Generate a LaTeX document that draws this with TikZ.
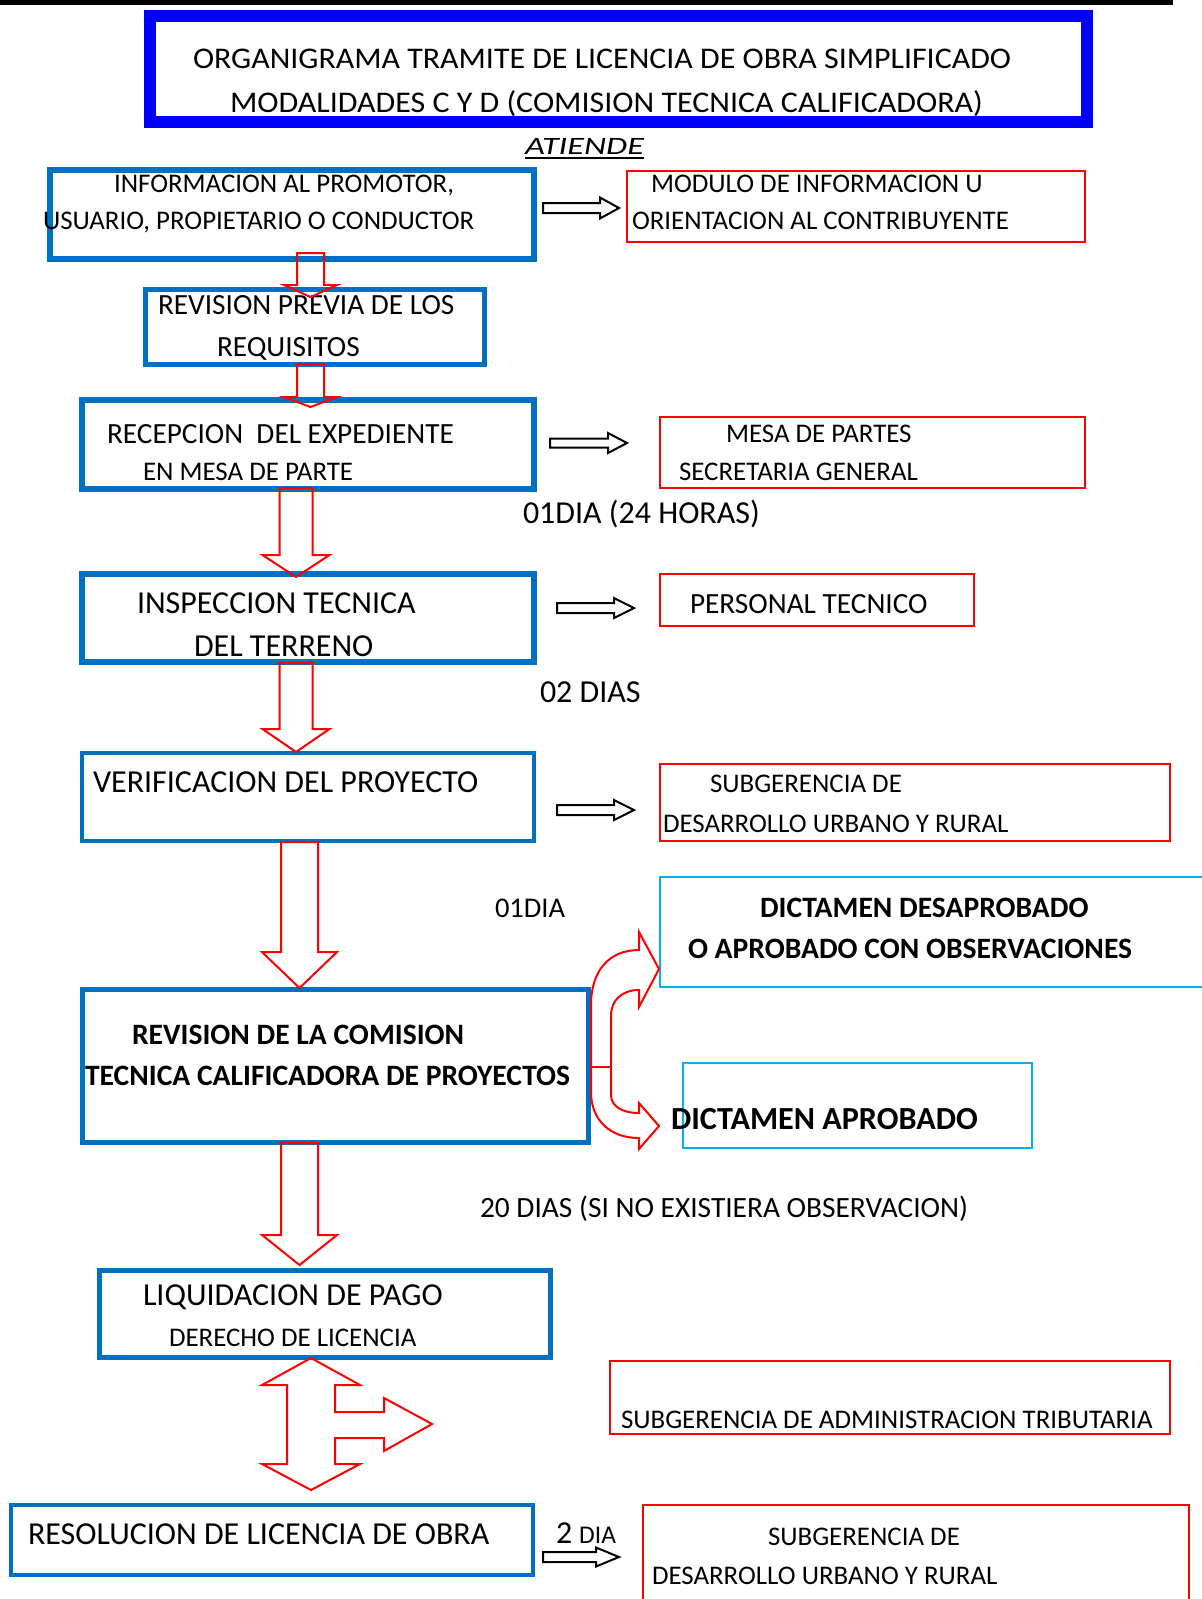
\documentclass[tikz,border=0pt]{standalone}
\usepackage{fontspec}
\setmainfont{Carlito}
\usetikzlibrary{calc}
\definecolor{boxblue}{HTML}{0070C0}
\definecolor{titleblue}{HTML}{0000FF}
\definecolor{cyanbox}{HTML}{00B0F0}
\definecolor{redline}{HTML}{FF0000}
\newcommand\fsz[1]{\fontsize{#1}{#1}\selectfont}
\tikzset{
  bluebox/.style={draw=boxblue, line width=5.5pt, inner sep=0pt, rectangle},
  redbox/.style={draw=redline, line width=2.2pt, inner sep=0pt, rectangle},
  cyanbx/.style={draw=cyanbox, line width=2pt, inner sep=0pt, rectangle},
  txt/.style={anchor=base west, inner sep=0pt, outer sep=0pt},
  redarr/.style={draw=redline, line width=2pt, line join=miter},
  blkarr/.style={draw=black, line width=2pt, line join=miter},
}
% down block arrow: cx, top, base of head, tip, half body, half head
\newcommand\downblk[6]{%
  \draw[redarr] ({#1-#5},#2) -- ({#1+#5},#2) -- ({#1+#5},#3) -- ({#1+#6},#3) -- (#1,#4) -- ({#1-#6},#3) -- ({#1-#5},#3) -- cycle;}
% right block arrow: x0, x1(tip), xhead, cy, half body, half head
\newcommand\rightblk[6]{%
  \draw[blkarr] (#1,{#4-#5}) -- (#3,{#4-#5}) -- (#3,{#4-#6}) -- (#2,#4) -- (#3,{#4+#6}) -- (#3,{#4+#5}) -- (#1,{#4+#5}) -- cycle;}
\begin{document}
\begin{tikzpicture}[x=1pt,y=-1pt]
\useasboundingbox (0,0) rectangle (1202,1599);
\fill[white] (0,0) rectangle (1202,1599);

% top rule
\draw[line width=5pt] (0,2.5) -- (1173,2.5);

% title box
\node[draw=titleblue, line width=12pt, minimum width=937pt, minimum height=106pt, inner sep=0pt] (title) at (618.5,69) {};
\node[txt] (title1) at (193,68) {\resizebox{818pt}{\height}{\fsz{30}ORGANIGRAMA TRAMITE DE LICENCIA DE OBRA SIMPLIFICADO}};
\node[txt] (title2) at (230,112) {\resizebox{753pt}{\height}{\fsz{30}MODALIDADES C Y D (COMISION TECNICA CALIFICADORA)}};

% ATIENDE
\node[txt] (atiende) at (525,154) {\resizebox{119pt}{\height}{\fsz{25}\itshape ATIENDE}};
\draw[line width=2pt] ($(atiende.base west)+(0,4)$) -- ($(atiende.base east)+(0,4)$);

% main column boxes
\node[bluebox, minimum width=484pt, minimum height=89pt] (b1) at (292,214.5) {};
\node[bluebox, minimum width=339pt, minimum height=75pt] (b2) at (315,327) {};
\node[bluebox, minimum width=452pt, minimum height=89pt] (b3) at (308,444.5) {};
\node[bluebox, minimum width=452pt, minimum height=88pt] (b4) at (308,618) {};
\node[bluebox, line width=4pt, minimum width=452pt, minimum height=88pt] (b5) at (308,797) {};
\node[bluebox, minimum width=506pt, minimum height=153pt] (b6) at (335.5,1066) {};
\node[bluebox, minimum width=451pt, minimum height=87pt] (b7) at (325,1314) {};
\node[bluebox, line width=4.5pt, minimum width=522pt, minimum height=70pt] (b8) at (272,1540) {};

% right boxes
\node[redbox, minimum width=458pt, minimum height=71pt] (r1) at (856,206.5) {};
\node[redbox, minimum width=425pt, minimum height=71pt] (r2) at (872.5,452.5) {};
\node[redbox, minimum width=314pt, minimum height=52pt] (r3) at (817,600) {};
\node[redbox, minimum width=510pt, minimum height=77pt] (r4) at (915,802.5) {};
\node[redbox, minimum width=560pt, minimum height=73pt] (r5) at (890,1397.5) {};
\node[redbox, minimum width=546pt, minimum height=115pt] (r6) at (916,1562.5) {};
\node[cyanbx, minimum width=555pt, minimum height=110pt] (c1) at (937.5,932) {};
\node[cyanbx, minimum width=349pt, minimum height=85pt] (c2) at (857.5,1105.5) {};

% texts in main boxes
\node[txt, font=\fsz{26.9}] (t1a) at (114,192) {INFORMACION AL PROMOTOR,};
\node[txt, font=\fsz{26.9}] (t1b) at (43,229) {USUARIO, PROPIETARIO O CONDUCTOR};
\node[txt, font=\fsz{29.3}] (t2a) at (158,314) {REVISION PREVIA DE LOS};
\node[txt, font=\fsz{29.3}] (t2b) at (217,356) {REQUISITOS};
\node[txt, font=\fsz{29.3}] (t3a) at (107,443) {RECEPCION\ \ DEL EXPEDIENTE};
\node[txt, font=\fsz{26.9}] (t3b) at (143,480) {EN MESA DE PARTE};
\node[txt, font=\fsz{32}] (t4a) at (137,613) {INSPECCION TECNICA};
\node[txt, font=\fsz{32}] (t4b) at (194,656) {DEL TERRENO};
\node[txt, font=\fsz{32}] (t5a) at (93,792) {VERIFICACION DEL PROYECTO};
\node[txt, font=\fsz{29.6}\bfseries] (t6a) at (132,1044) {REVISION DE LA COMISION};
\node[txt, font=\fsz{29.6}\bfseries] (t6b) at (85,1085) {TECNICA CALIFICADORA DE PROYECTOS};
\node[txt, font=\fsz{32}] (t7a) at (143,1305) {LIQUIDACION DE PAGO};
\node[txt, font=\fsz{26.9}] (t7b) at (169,1346) {DERECHO DE LICENCIA};
\node[txt, font=\fsz{32}] (t8a) at (28,1544) {RESOLUCION DE LICENCIA DE OBRA};

% texts in right boxes
\node[txt, font=\fsz{26.9}] (s1a) at (651,192) {MODULO DE INFORMACION U};
\node[txt, font=\fsz{26.9}] (s1b) at (632,229) {ORIENTACION AL CONTRIBUYENTE};
\node[txt, font=\fsz{26.9}] (s2a) at (726,442) {MESA DE PARTES};
\node[txt, font=\fsz{26.9}] (s2b) at (679,480) {SECRETARIA GENERAL};
\node[txt, font=\fsz{29.3}] (s3a) at (690,613) {PERSONAL TECNICO};
\node[txt, font=\fsz{26.9}] (s4a) at (710,792) {SUBGERENCIA DE};
\node[txt, font=\fsz{26.9}] (s4b) at (663,832) {DESARROLLO URBANO Y RURAL};
\node[txt, font=\fsz{29.6}\bfseries] (c1a) at (760,917) {DICTAMEN DESAPROBADO};
\node[txt, font=\fsz{29.6}\bfseries] (c1b) at (688,958) {O APROBADO CON OBSERVACIONES};
\node[txt, font=\fsz{32.2}\bfseries] (c2a) at (671,1129) {DICTAMEN APROBADO};
\node[txt, font=\fsz{26.9}] (s5a) at (621,1428) {SUBGERENCIA DE ADMINISTRACION TRIBUTARIA};
\node[txt, font=\fsz{26.9}] (s6a) at (768,1545) {SUBGERENCIA DE};
\node[txt, font=\fsz{26.9}] (s6b) at (652,1584) {DESARROLLO URBANO Y RURAL};

% durations
\node[txt, font=\fsz{32}] (d1) at (523,523) {01DIA (24 HORAS)};
\node[txt, font=\fsz{32}] (d2) at (540,702) {02 DIAS};
\node[txt, font=\fsz{28.5}] (d3) at (495,917) {01DIA};
\node[txt, font=\fsz{29.4}] (d4) at (480,1217) {20 DIAS (SI NO EXISTIERA OBSERVACION)};
\node[txt] (d5) at (556,1543) {{\fsz{32}2}\hspace{7pt}{\fsz{25.5}DIA}};

% red down block arrows
\downblk{310.5}{253}{285}{297}{13.5}{26.5}
\downblk{310.5}{364}{397}{407}{13.5}{26.5}
\downblk{296}{488}{555}{577}{16.5}{33.5}
\downblk{296}{663}{729}{752}{16.5}{33.5}
\downblk{299.5}{842}{952}{988}{18.5}{37.5}
\downblk{299.5}{1143}{1235}{1265}{18.5}{37.5}

% black right block arrows
\rightblk{543}{619}{600}{208}{5}{10.5}
\rightblk{550}{627}{608}{443}{4.5}{10}
\rightblk{557}{634}{614}{608}{5}{10}
\rightblk{557}{634}{614}{810}{5}{10}
\rightblk{543}{619}{596}{1557}{5}{9.5}

% curved split arrow from b6
\draw[redarr] (591,1067) -- (591,1005) .. controls (591,972) and (608,950) .. (639,950)
  -- (639,932) -- (659,969) -- (639,1007) -- (639,990)
  .. controls (622,990) and (611,1000) .. (611,1016) -- (611,1095)
  .. controls (611,1106) and (622,1113) .. (639,1113)
  -- (639,1103) -- (659,1126) -- (639,1149) -- (639,1138)
  .. controls (610,1138) and (591,1120) .. (591,1092) -- cycle;
\draw[redarr] (591,1067) -- (611,1067);

% quad block arrow below b7
\draw[redarr] (311,1358) -- (360,1385) -- (335,1385) -- (335,1412) -- (384,1412) -- (384,1398)
  -- (432,1424) -- (384,1451) -- (384,1438) -- (335,1438) -- (335,1464) -- (360,1464)
  -- (311,1490) -- (262,1464) -- (287,1464) -- (287,1385) -- (262,1385) -- cycle;
\end{tikzpicture}
\end{document}
